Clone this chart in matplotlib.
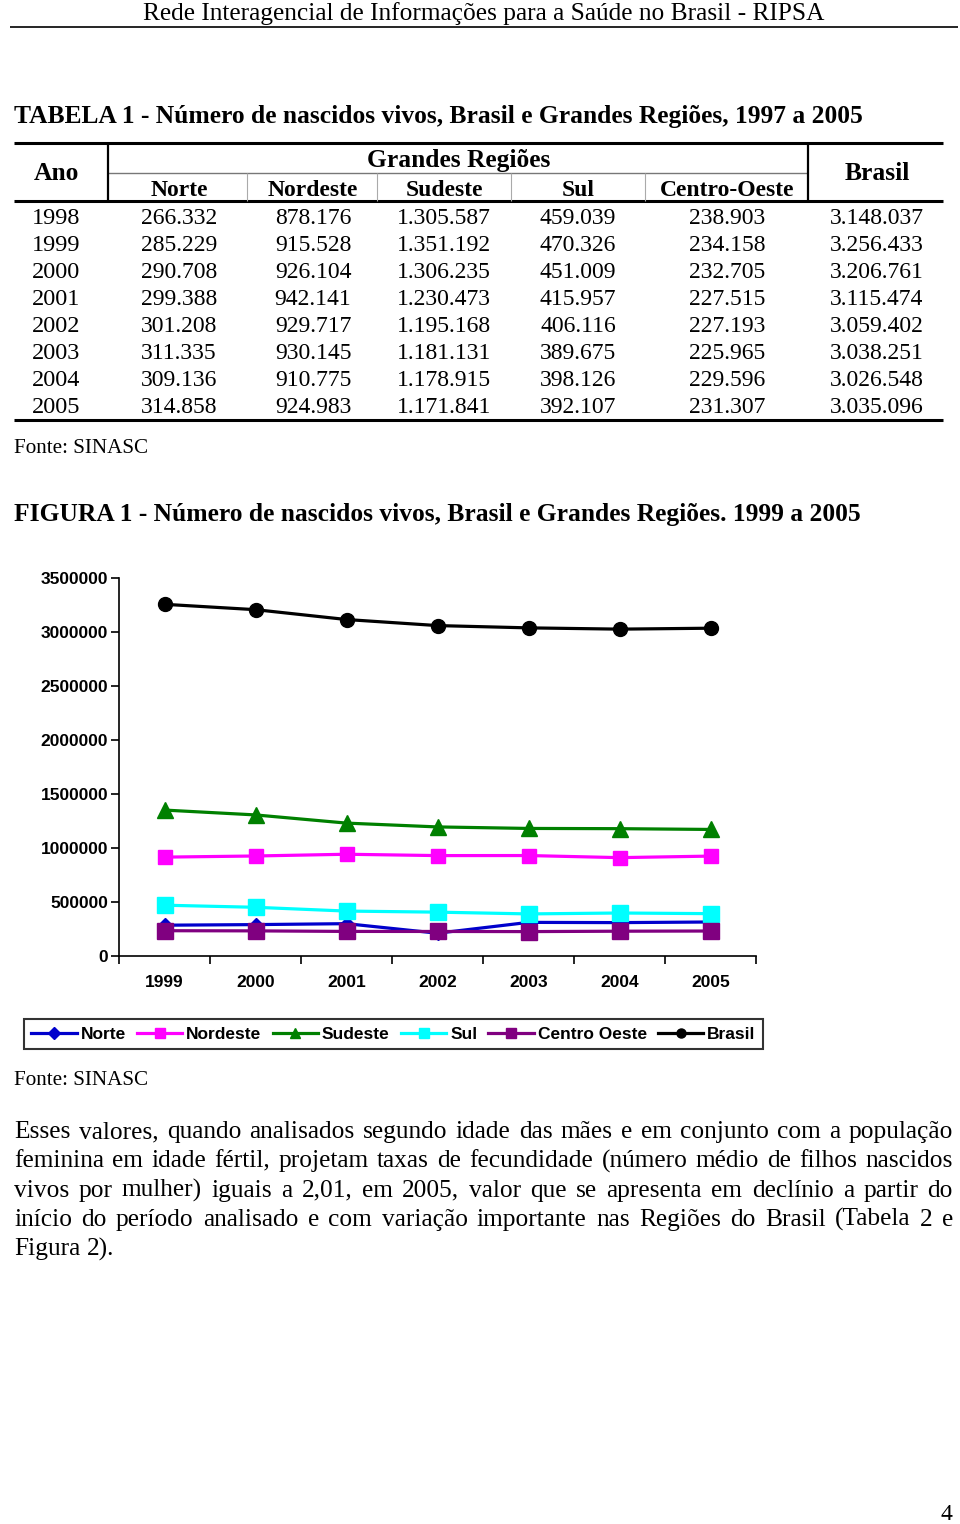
import numpy as np
import matplotlib
matplotlib.use("Agg")
import matplotlib.pyplot as plt
from matplotlib.lines import Line2D

# ---- tabela 1 (valores como aparecem na pagina)
anos_tab = ["1998", "1999", "2000", "2001", "2002", "2003", "2004", "2005"]
norte_tab = [266332, 285229, 290708, 299388, 301208, 311335, 309136, 314858]
nordeste_tab = [878176, 915528, 926104, 942141, 929717, 930145, 910775, 924983]
sudeste_tab = [1305587, 1351192, 1306235, 1230473, 1195168, 1181131, 1178915, 1171841]
sul_tab = [459039, 470326, 451009, 415957, 406116, 389675, 398126, 392107]
co_tab = [238903, 234158, 232705, 227515, 227193, 225965, 229596, 231307]
brasil_tab = [3148037, 3256433, 3206761, 3115474, 3059402, 3038251, 3026548, 3035096]

# ---- figura 1 (Norte 2002 aparece bem mais baixo no grafico)
anos_fig = ["1999", "2000", "2001", "2002", "2003", "2004", "2005"]
norte_fig = [285229, 290708, 299388, 211000, 311335, 309136, 314858]
nordeste_fig = [915528, 926104, 942141, 929717, 930145, 910775, 924983]
sudeste_fig = [1351192, 1306235, 1230473, 1195168, 1181131, 1178915, 1171841]
sul_fig = [470326, 451009, 415957, 406116, 389675, 398126, 392107]
co_fig = [234158, 232705, 227515, 227193, 225965, 229596, 231307]
brasil_fig = [3256433, 3206761, 3115474, 3059402, 3038251, 3026548, 3035096]
yticks_fig = [0, 500000, 1000000, 1500000, 2000000, 2500000, 3000000, 3500000]

# linhas do paragrafo, quebradas como na pagina
texto = [
    "Esses valores, quando analisados segundo idade das mães e em conjunto com a população",
    "feminina em idade fértil, projetam taxas de fecundidade (número médio de filhos nascidos",
    "vivos por mulher) iguais a 2,01, em 2005, valor que se apresenta em declínio a partir do",
    "início do período analisado e com variação importante nas Regiões do Brasil (Tabela 2 e",
    "Figura 2).",
]

SERIF = "Liberation Serif"
SANS = "Liberation Sans"
W, H = 960, 1524

fig = plt.figure(figsize=(W / 100, H / 100), dpi=100)
fig.patch.set_facecolor("white")

# page overlay in pixel coords
pg = fig.add_axes([0, 0, 1, 1])
pg.set_xlim(0, W)
pg.set_ylim(H, 0)
pg.axis("off")


def hline(y, x0, x1, lw=1.0, c="black"):
    pg.plot([x0, x1], [y, y], color=c, lw=lw, solid_capstyle="butt")


def vline(x, y0, y1, lw=1.0, c="black"):
    pg.plot([x, x], [y0, y1], color=c, lw=lw, solid_capstyle="butt")


def fmt(v):
    return f"{v:,}".replace(",", ".")


# header
pg.text(484, 20, "Rede Interagencial de Informações para a Saúde no Brasil - RIPSA",
        family=SERIF, fontsize=18.3, ha="center", va="baseline")
hline(27, 10, 958, lw=1.2)

# table title
pg.text(14, 123, "TABELA 1 - Número de nascidos vivos, Brasil e Grandes Regiões, 1997 a 2005",
        family=SERIF, fontsize=18.4, weight="bold", ha="left", va="baseline")

# table frame
hline(143, 14, 943, lw=2.2)
hline(201, 14, 943, lw=2.2)
hline(420, 14, 943, lw=2.2)
hline(173, 108, 808, lw=1.0, c="#777777")
vline(108, 143, 201, lw=1.6)
vline(808, 143, 201, lw=1.6)
for xs in [247, 377, 511, 645]:
    vline(xs, 173, 201, lw=0.8, c="#aaaaaa")

col_x = [179, 313, 444, 578, 727]
hdrs = ["Norte", "Nordeste", "Sudeste", "Sul", "Centro-Oeste"]
tfs = 17
hfs = 18.4
pg.text(459, 167, "Grandes Regiões", family=SERIF, fontsize=hfs, weight="bold", ha="center", va="baseline")
pg.text(56, 180, "Ano", family=SERIF, fontsize=hfs, weight="bold", ha="center", va="baseline")
pg.text(877, 180, "Brasil", family=SERIF, fontsize=hfs, weight="bold", ha="center", va="baseline")
for cx, h in zip(col_x, hdrs):
    pg.text(cx, 196, h, family=SERIF, fontsize=tfs, weight="bold", ha="center", va="baseline")

cols = [norte_tab, nordeste_tab, sudeste_tab, sul_tab, co_tab]
for i, ano in enumerate(anos_tab):
    yb = 224 + 27 * i
    pg.text(56, yb, ano, family=SERIF, fontsize=17.5, ha="center", va="baseline")
    for cx, col in zip(col_x, cols):
        pg.text(cx, yb, fmt(col[i]), family=SERIF, fontsize=tfs, ha="center", va="baseline")
    pg.text(877, yb, fmt(brasil_tab[i]), family=SERIF, fontsize=tfs, ha="center", va="baseline")

pg.text(14, 453, "Fonte: SINASC", family=SERIF, fontsize=15.2, ha="left", va="baseline")

pg.text(14, 521, "FIGURA 1 - Número de nascidos vivos, Brasil e Grandes Regiões. 1999 a 2005",
        family=SERIF, fontsize=18.4, weight="bold", ha="left", va="baseline")

# ---- chart
ax = fig.add_axes([119 / W, 1 - 956 / H, 637 / W, 378 / H])
x = np.arange(len(anos_fig))
series = [
    ("Norte", norte_fig, "#0000cc", "D", 7),
    ("Nordeste", nordeste_fig, "#ff00ff", "s", 10),
    ("Sudeste", sudeste_fig, "#008000", "^", 12),
    ("Sul", sul_fig, "#00ffff", "s", 12),
    ("Centro Oeste", co_fig, "#800080", "s", 11.5),
    ("Brasil", brasil_fig, "black", "o", 10),
]
handles = []
for nome, vals, cor, mk, ms in series:
    ax.plot(x, vals, color=cor, lw=2.3, marker=mk, ms=ms, mec=cor, mfc=cor, clip_on=False)
    handles.append(Line2D([], [], color=cor, lw=2.3, marker=mk, ms=6.5, mec=cor, mfc=cor, label=nome))

ax.set_xlim(-0.5, len(anos_fig) - 0.5)
ax.set_ylim(0, 3500000)
ax.set_yticks(yticks_fig)
ax.set_yticklabels([str(v) for v in yticks_fig])
ax.set_xticks(np.arange(-0.5, len(anos_fig), 1))
ax.set_xticklabels([])
ax.set_xticks(x, minor=True)
ax.set_xticklabels(anos_fig, minor=True)
ax.tick_params(axis="x", which="major", length=6, width=1.2, direction="out")
ax.tick_params(axis="x", which="minor", length=0, pad=13.5)
ax.tick_params(axis="y", length=6, width=1.2, direction="out", pad=1.8)
for lab in ax.get_xticklabels(minor=True) + ax.get_yticklabels():
    lab.set_family(SANS)
    lab.set_weight("bold")
    lab.set_fontsize(12.5)
for s in ["top", "right"]:
    ax.spines[s].set_visible(False)
for s in ["left", "bottom"]:
    ax.spines[s].set_linewidth(1.2)
ax.set_facecolor("none")

leg = fig.legend(handles=handles, loc="center", bbox_to_anchor=(393.5 / W, 1 - 1034 / H),
                 ncol=6, frameon=True, fancybox=False, edgecolor="black",
                 prop={"family": SANS, "weight": "bold", "size": 12.5},
                 handlelength=2.6, handletextpad=0.23, columnspacing=0.65,
                 borderpad=0.45, borderaxespad=0)
leg.get_frame().set_linewidth(1.5)

pg.text(14, 1085, "Fonte: SINASC", family=SERIF, fontsize=15.2, ha="left", va="baseline")

# ---- paragrafo justificado
pfs = 18.3
fig.canvas.draw()
r = fig.canvas.get_renderer()


def word_w(w):
    t = pg.text(0, 0, w, family=SERIF, fontsize=pfs)
    bb = t.get_window_extent(renderer=r)
    t.remove()
    return bb.width


left, right = 14, 953
space_w = word_w("a a") - 2 * word_w("a")
for li, linha in enumerate(texto):
    ln = [(w, word_w(w)) for w in linha.split(" ")]
    yb = 1138 + 29.3 * li
    if li < len(texto) - 1 and len(ln) > 1:
        gap = (right - left - sum(w for _, w in ln)) / (len(ln) - 1)
    else:
        gap = space_w
    xp = left
    for w, ww in ln:
        pg.text(xp, yb, w, family=SERIF, fontsize=pfs, ha="left", va="baseline")
        xp += ww + gap

pg.text(946, 1520, "4", family=SERIF, fontsize=17, ha="center", va="baseline")

fig.savefig("out.png", dpi=100, facecolor="white")
